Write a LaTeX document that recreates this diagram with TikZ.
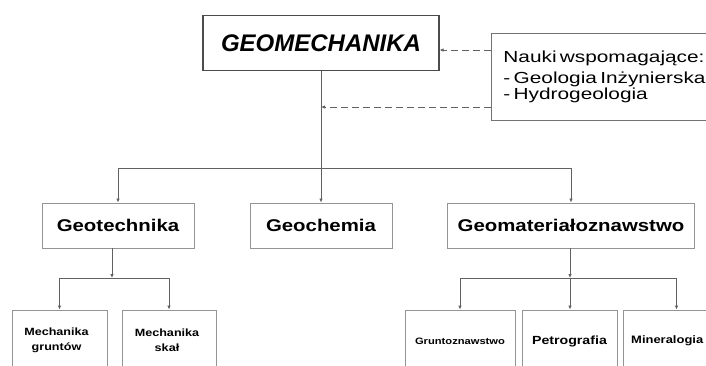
\documentclass[tikz,border=0pt]{standalone}
\usepackage{fontspec}
\setmainfont{Liberation Sans}
\newfontfamily\widefont[FakeStretch=1.2]{Liberation Sans}
\newfontfamily\widerfont[FakeStretch=1.3]{Liberation Sans}
\usetikzlibrary{arrows.meta}
\begin{document}
\begin{tikzpicture}[x=1pt,y=-1pt,
  box/.style={draw=black!42, line width=0.9pt, rectangle, inner sep=0pt, align=center},
  lbl/.style={align=center, inner sep=0pt},
  conn/.style={draw=black!62, line width=1pt},
  arr/.style={conn, -{Latex[length=4pt,width=3.5pt]}},
  darr/.style={conn, dashed, dash pattern=on 7pt off 4pt, -{Latex[length=4pt,width=3.5pt]}}]
\useasboundingbox (0,0) rectangle (706,365);
\clip (0,0) rectangle (706,365);
\fill[white] (0,0) rectangle (706,365);
% main
\node[box, draw=black!70, line width=1.1pt, minimum width=236pt, minimum height=55pt] (geo) at (321,43)
  {\fontsize{24}{28}\selectfont\bfseries\itshape GEOMECHANIKA};
\node[box, draw=black!55, anchor=north west, minimum height=87pt, text width=210pt, inner xsep=12pt, align=left] (nauki) at (491,33)
  {\widerfont\fontsize{16}{21.5}\selectfont Nauki wspomagające:\\- Geologia Inżynierska\\- Hydrogeologia};
% level 2
\node[box, minimum width=152pt, minimum height=45pt] (geotech) at (118,225.5)
  {\widefont\fontsize{17}{20}\selectfont\bfseries Geotechnika};
\node[box, minimum width=142pt, minimum height=45pt] (geochem) at (321,225.5)
  {\widefont\fontsize{17}{20}\selectfont\bfseries Geochemia};
\node[box, minimum width=247pt, minimum height=45pt] (geomat) at (571,225.5)
  {\widefont\fontsize{17}{20}\selectfont\bfseries Geomateriałoznawstwo};
% level 3
\node[box, minimum width=95pt, minimum height=70pt] (mg) at (59.5,345) {};
\node[lbl, font=\widefont\fontsize{10.5}{15}\selectfont\bfseries] (mgt) at (56.5,340.5) {Mechanika\\gruntów};
\node[box, minimum width=94pt, minimum height=70pt] (ms) at (169,345) {};
\node[lbl, font=\widefont\fontsize{10.5}{15}\selectfont\bfseries] (mst) at (167,340.5) {Mechanika\\skał};
\node[box, minimum width=110pt, minimum height=70pt] (gr) at (460,345) {};
\node[lbl, font=\widefont\fontsize{9.3}{11}\selectfont\bfseries] (grt) at (460,341) {Gruntoznawstwo};
\node[box, minimum width=95pt, minimum height=70pt] (pe) at (569.5,345) {};
\node[lbl, font=\widefont\fontsize{11.8}{13}\selectfont\bfseries] (pet) at (569.5,341) {Petrografia};
\node[box, minimum width=107pt, minimum height=70pt] (mi) at (676.5,345) {};
\node[lbl, font=\widefont\fontsize{10.8}{13}\selectfont\bfseries, anchor=west] (mit) at (631,341) {Mineralogia};
% junctions
\coordinate (j1) at (321,168);
\coordinate (j2) at (112,278);
\coordinate (j3) at (570,278);
\coordinate (d1) at (0,50);
\coordinate (d2) at (0,107);
% connectors
\draw[conn] (geo.south) -- (j1);
\draw[arr] (j1) -| (geotech.north);
\draw[arr] (j1) -- (geochem.north);
\draw[arr] (j1) -| (geomat.north);
\draw[arr] (geotech.south -| j2) -- (j2);
\draw[arr] (j2) -| (mg.north);
\draw[arr] (j2) -| (ms.north);
\draw[arr] (geomat.south -| j3) -- (j3);
\draw[arr] (j3) -| (gr.north);
\draw[arr] (j3) -- (pe.north -| j3);
\draw[arr] (j3) -| (mi.north);
\draw[darr] (nauki.west |- d1) -- (geo.east |- d1);
\draw[darr] (nauki.west |- d2) -- (j1 |- d2);
\end{tikzpicture}
\end{document}
